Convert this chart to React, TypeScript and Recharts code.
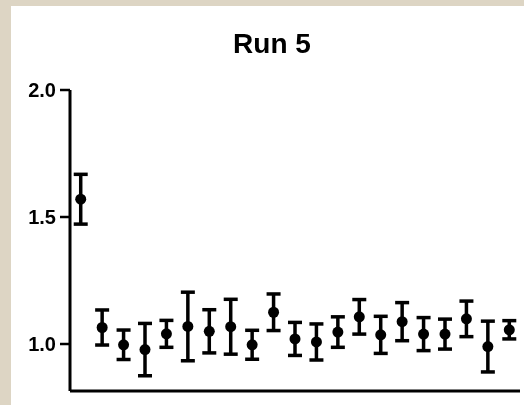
import React from "react";
import { ComposedChart, Scatter, ErrorBar, XAxis, YAxis } from "recharts";

const runs = [1, 2, 3, 4, 5, 6, 7, 8, 9, 10, 11, 12, 13, 14, 15, 16, 17, 18, 19, 20, 21];
const means = [
  1.57, 1.065, 0.997, 0.978, 1.04, 1.069, 1.05, 1.068, 0.997, 1.125, 1.02,
  1.008, 1.047, 1.107, 1.036, 1.088, 1.039, 1.039, 1.099, 0.99, 1.056
];
const errors = [
  0.098, 0.069, 0.058, 0.103, 0.053, 0.135, 0.085, 0.108, 0.057, 0.072, 0.065,
  0.071, 0.06, 0.068, 0.073, 0.075, 0.065, 0.059, 0.07, 0.1, 0.036
];
const yTicks = [1.0, 1.5, 2.0];

const data = runs.map((x, i) => ({ x, mean: means[i], err: errors[i] }));

const font = "'Liberation Sans', Arial, sans-serif";

function Dot(props: any) {
  return <circle cx={props.cx} cy={props.cy} r={5.5} fill="#000" />;
}

export default function App() {
  return (
    <div
      style={{
        position: "fixed",
        left: 0,
        top: 0,
        width: 524,
        height: 405,
        background: "#ddd5c4"
      }}
    >
      <div
        style={{
          position: "absolute",
          left: 11,
          top: 6,
          width: 513,
          height: 399,
          background: "#fff"
        }}
      >
        <div
          style={{
            position: "absolute",
            left: 0,
            width: 522,
            top: 24,
            textAlign: "center",
            fontFamily: font,
            fontWeight: "bold",
            fontSize: 28,
            lineHeight: "28px",
            color: "#000"
          }}
        >
          Run 5
        </div>
        <ComposedChart
          width={513}
          height={399}
          data={data}
          margin={{ top: 84, right: 4, left: 0, bottom: 13 }}
        >
          <XAxis
            type="number"
            dataKey="x"
            domain={[0.5, 21.5]}
            allowDataOverflow
            tick={false}
            tickLine={false}
            height={1}
            axisLine={{ stroke: "#000", strokeWidth: 3 }}
          />
          <YAxis
            type="number"
            domain={[0.815, 2]}
            allowDataOverflow
            ticks={yTicks}
            width={59}
            tickSize={10}
            tickMargin={4}
            tickFormatter={(v: number) => v.toFixed(1)}
            tick={{ fill: "#000", fontSize: 20, fontWeight: "bold", fontFamily: font }}
            tickLine={{ stroke: "#000", strokeWidth: 2.5 }}
            axisLine={{ stroke: "#000", strokeWidth: 3 }}
          />
          <Scatter dataKey="mean" shape={<Dot />} isAnimationActive={false}>
            <ErrorBar
              dataKey="err"
              direction="y"
              width={7}
              stroke="#000"
              strokeWidth={3.5}
              isAnimationActive={false}
            />
          </Scatter>
        </ComposedChart>
      </div>
    </div>
  );
}
